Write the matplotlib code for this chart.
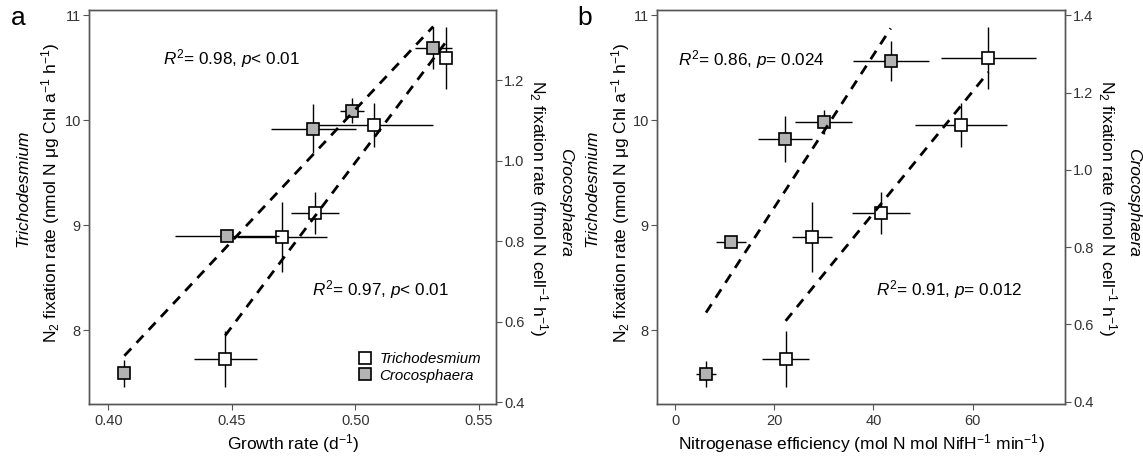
import numpy as np
import matplotlib
matplotlib.use("Agg")
import matplotlib.pyplot as plt
from matplotlib.lines import Line2D

plt.rcParams['font.family'] = ['Liberation Sans', 'DejaVu Sans']
plt.rcParams['mathtext.fontset'] = 'custom'
plt.rcParams['mathtext.rm'] = 'Liberation Sans'
plt.rcParams['mathtext.it'] = 'Liberation Sans:italic'

# growth rate (d-1)
tri_mu = [0.4473, 0.4702, 0.4836, 0.5075, 0.5365]
tri_mu_err = [0.0128, 0.0182, 0.0098, 0.0238, 0.002]
cro_mu = [0.4065, 0.4479, 0.4830, 0.4985, 0.5315]
cro_mu_err = [0.001, 0.021, 0.0173, 0.0049, 0.0074]

# nitrogenase efficiency (mol N mol NifH-1 min-1)
tri_eff = [22.3, 27.55, 41.46, 57.58, 63.16]
tri_eff_err = [4.8, 4.0, 5.8, 9.3, 9.5]
cro_eff = [6.25, 11.22, 22.17, 29.97, 43.47]
cro_eff_err = [2.0, 3.0, 5.4, 5.7, 7.66]

# N2 fixation rates
tri_fix = [7.727, 8.891, 9.114, 9.955, 10.59]
tri_fix_err = [0.27, 0.333, 0.2, 0.21, 0.295]
cro_fix = [0.472, 0.812, 1.080, 1.125, 1.281]
cro_fix_err = [0.034, 0.01, 0.06, 0.031, 0.052]

stats_a = ['$R^2$= 0.98, $p$< 0.01', '$R^2$= 0.97, $p$< 0.01']
stats_b = ['$R^2$= 0.86, $p$= 0.024', '$R^2$= 0.91, $p$= 0.012']

W, H = 1143, 459
fig = plt.figure(figsize=(W / 100, H / 100), dpi=100)

spine_c = '#555555'
gray = '#b3b3b3'


def style(ax):
    for s in ax.spines.values():
        s.set_color(spine_c)
        s.set_linewidth(1.0)
    ax.tick_params(direction='out', length=4, width=0.8, color=spine_c,
                   labelsize=10.5, labelcolor='#333333', pad=2)


def panel(rect, tx, txe, cx, cxe, xlim, xticks, xticklabels, rlim, rticks,
          xlabel, stats, text_pos):
    ax = fig.add_axes(rect)
    ax2 = ax.twinx()
    ekw = dict(fmt='s', ms=9, mew=1.2, mec='black', ecolor='black',
               elinewidth=1.0, capsize=0)
    ax.errorbar(tx, tri_fix, xerr=txe, yerr=tri_fix_err, mfc='white', zorder=3, **ekw)
    ax2.errorbar(cx, cro_fix, xerr=cxe, yerr=cro_fix_err, mfc=gray, zorder=3, **ekw)

    # fitted lines
    k, b = np.polyfit(tx, tri_fix, 1)
    xx = np.array([min(tx), max(tx)])
    ax.plot(xx, k * xx + b, color='black', lw=2.0, dashes=(3.6, 2.8), zorder=4)
    k, b = np.polyfit(cx, cro_fix, 1)
    xx = np.array([min(cx), max(cx)])
    ax2.plot(xx, k * xx + b, color='black', lw=2.0, dashes=(3.6, 2.8), zorder=4)

    ax.set_xlim(*xlim)
    ax.set_ylim(7.298, 11.05)
    ax.set_yticks([8, 9, 10, 11])
    ax.set_xticks(xticks)
    ax.set_xticklabels(xticklabels)
    ax2.set_ylim(*rlim)
    ax2.set_yticks(rticks)
    ax2.set_yticklabels(['%.1f' % v for v in rticks])
    style(ax)
    style(ax2)
    ax.tick_params(axis='x', pad=3)
    ax.set_xlabel(xlabel, fontsize=12.5, labelpad=3)

    for s, (px, py) in zip(stats, text_pos):
        ax.text(px, py, s, transform=ax.transAxes, fontsize=12.3,
                ha='left', va='baseline')
    return ax, ax2


ax_a, ax_a2 = panel([89.3 / W, 55 / H, 406.7 / W, 394 / H],
                    tri_mu, tri_mu_err, cro_mu, cro_mu_err,
                    (0.3923, 0.5569), [0.40, 0.45, 0.50, 0.55],
                    ['0.40', '0.45', '0.50', '0.55'],
                    (0.3958, 1.3747), [0.4, 0.6, 0.8, 1.0, 1.2],
                    'Growth rate (d$^{-1}$)', stats_a,
                    [(0.182, 0.862), (0.548, 0.2766)])

ax_b, ax_b2 = panel([657.3 / W, 55 / H, 407.7 / W, 394 / H],
                    tri_eff, tri_eff_err, cro_eff, cro_eff_err,
                    (-3.57, 78.6), [0, 20, 40, 60], ['0', '20', '40', '60'],
                    (0.394, 1.4137), [0.4, 0.6, 0.8, 1.0, 1.2, 1.4],
                    'Nitrogenase efficiency (mol N mol NifH$^{-1}$ min$^{-1}$)',
                    stats_b, [(0.0515, 0.8604), (0.536, 0.2766)])

# legend in panel a
handles = [Line2D([], [], marker='s', ls='none', ms=8.5, mew=1.2, mec='black', mfc='white'),
           Line2D([], [], marker='s', ls='none', ms=8.5, mew=1.2, mec='black', mfc=gray)]
ax_a2.legend(handles, ['Trichodesmium', 'Crocosphaera'], loc='lower left',
             bbox_to_anchor=(0.64, 0.035), frameon=False, handlelength=1.0,
             handletextpad=0.5, labelspacing=0.15, borderpad=0,
             prop={'style': 'italic', 'size': 10.8})

# axis titles
left_lab = 'N$_2$ fixation rate (nmol N μg Chl a$^{-1}$ h$^{-1}$)'
right_lab = 'N$_2$ fixation rate (fmol N cell$^{-1}$ h$^{-1}$)'
for x1, x2, x3, x4 in [(23, 51, 538, 566), (592, 621, 1107, 1134)]:
    fig.text(x1 / W, 1 - 188 / H, 'Trichodesmium', rotation=90, style='italic',
             fontsize=12.5, ha='center', va='center')
    fig.text(x2 / W, 1 - 193 / H, left_lab, rotation=90, fontsize=12.5,
             ha='center', va='center')
    fig.text(x3 / W, 1 - 208 / H, right_lab, rotation=-90, fontsize=12.5,
             ha='center', va='center')
    fig.text(x4 / W, 1 - 202 / H, 'Crocosphaera', rotation=-90, style='italic',
             fontsize=12.5, ha='center', va='center')

fig.text(11 / W, 1 - 25 / H, 'a', fontsize=19, ha='left', va='baseline')
fig.text(577 / W, 1 - 25 / H, 'b', fontsize=19, ha='left', va='baseline')

fig.savefig('out.png', dpi=100)
